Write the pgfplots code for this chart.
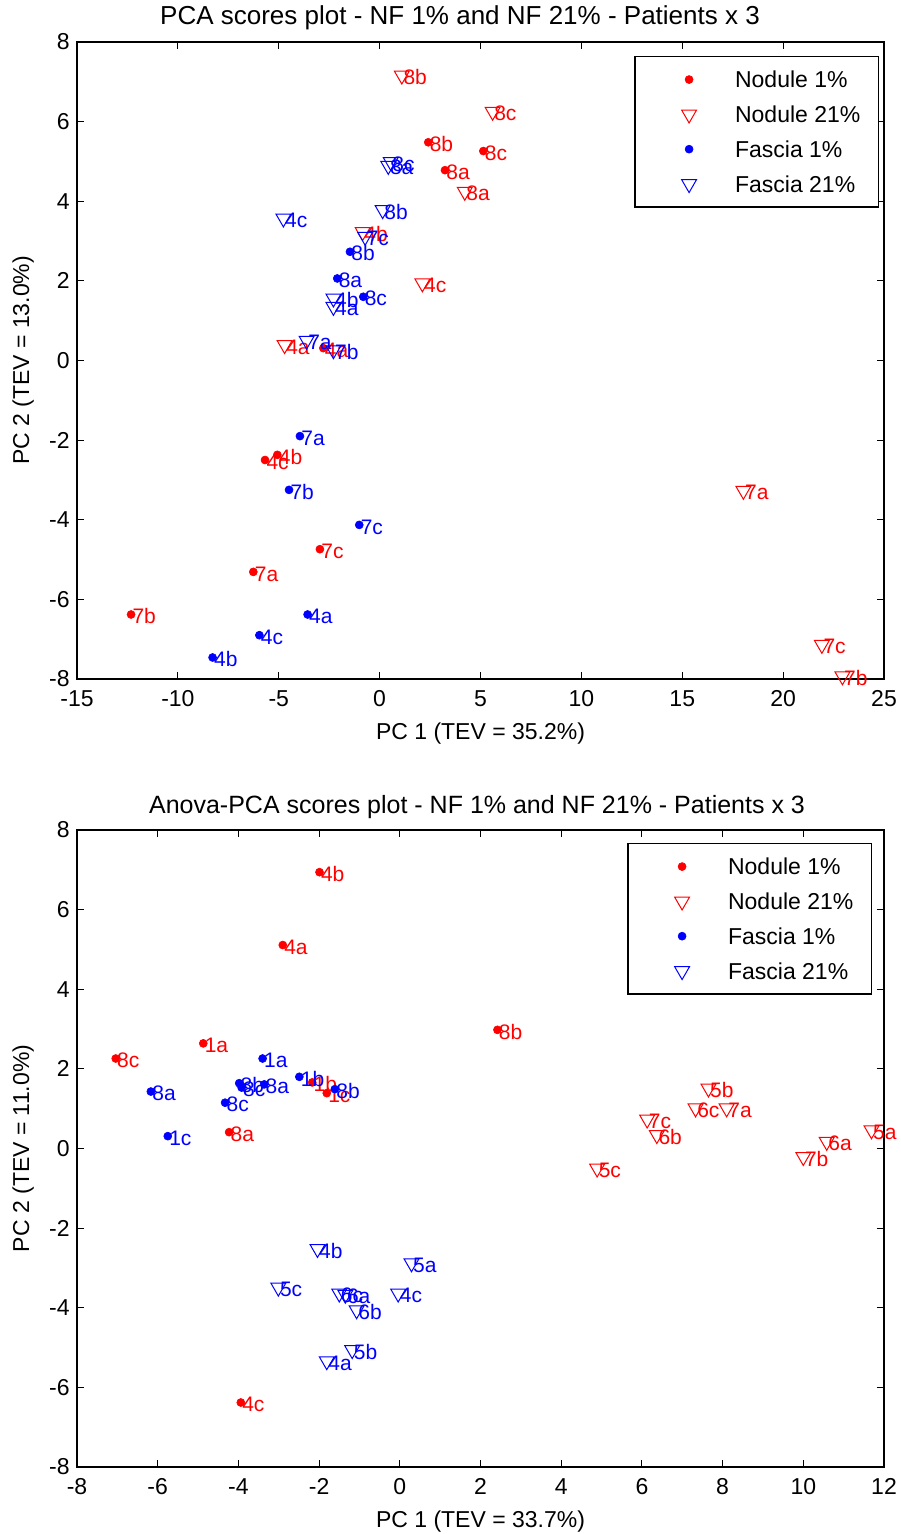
\documentclass[border=0pt]{standalone}
\usepackage{fontspec}
\setmainfont{Liberation Sans}
\usepackage{pgfplots}
\usepackage{pgfplotstable}
\pgfplotsset{compat=1.18}

% ---------- PCA scores (top) ----------
\pgfplotstableread{
x y lbl
2.41 5.48 8b
5.14 5.26 8c
3.24 4.78 8a
-2.79 0.31 4a
-5.07 -2.37 4b
-5.68 -2.50 4c
-2.96 -4.74 7c
-6.26 -5.31 7a
-12.32 -6.38 7b
}\pcaNodOne

\pgfplotstableread{
x y lbl
1.10 7.16 8b
5.60 6.25 8c
4.22 4.24 8a
-0.84 3.23 4b
2.12 1.94 4c
-4.71 0.39 4a
18.03 -3.27 7a
21.92 -7.14 7c
22.94 -7.93 7b
}\pcaNodTwo

\pgfplotstableread{
x y lbl
-1.47 2.73 8b
-2.10 2.06 8a
-0.81 1.60 8c
-3.95 -1.90 7a
-4.49 -3.25 7b
-1.01 -4.13 7c
-3.57 -6.38 4a
-5.96 -6.90 4c
-8.28 -7.46 4b
}\pcaFasOne

\pgfplotstableread{
x y lbl
0.55 4.99 8c
0.43 4.89 8a
0.15 3.78 8b
-4.77 3.57 4c
-0.72 3.11 7c
-2.29 1.56 4b
-2.29 1.35 4a
-3.62 0.50 7a
-2.29 0.26 7b
}\pcaFasTwo

% ---------- Anova-PCA scores (bottom) ----------
\pgfplotstableread{
x y lbl
-1.99 6.94 4b
-2.90 5.11 4a
2.42 2.98 8b
-4.87 2.64 1a
-7.04 2.26 8c
-2.17 1.66 1b
-1.81 1.39 1c
-4.23 0.41 8a
-3.94 -6.38 4c
}\apcaNodOne

\pgfplotstableread{
x y lbl
7.65 1.51 5b
7.33 1.01 6c
8.10 1.01 7a
6.13 0.73 7c
6.37 0.34 6b
4.89 -0.50 5c
10.00 -0.21 7b
10.58 0.17 6a
11.69 0.46 5a
}\apcaNodTwo

\pgfplotstableread{
x y lbl
-3.40 2.26 1a
-6.17 1.43 8a
-3.98 1.64 8b
-3.92 1.53 8c
-3.36 1.61 8a
-2.49 1.80 1b
-1.61 1.49 8b
-4.33 1.15 8c
-5.75 0.31 1c
}\apcaFasOne

\pgfplotstableread{
x y lbl
-2.04 -2.52 4b
0.29 -2.88 5a
-3.01 -3.49 5c
-1.50 -3.64 6c
-1.35 -3.67 6a
-1.07 -4.06 6b
-0.04 -3.64 4c
-1.18 -5.06 5b
-1.81 -5.34 4a
}\apcaFasTwo

\pgfplotsset{
  scoreaxis/.style={
    scale only axis, width=403.5pt, height=318.5pt,
    clip=false,
    axis line style={black, line width=0.6pt},
    tick align=inside, tick pos=both,
    major tick length=3.5pt,
    tick style={black, line width=0.5pt},
    /pgf/number format/assume math mode=true,
    ticklabel style={font=\fontsize{11.5}{13}\selectfont},
    xticklabel style={inner sep=0pt, anchor=north, yshift=-5.5pt},
    yticklabel style={inner sep=0pt, anchor=east, xshift=-3.5pt},
    label style={font=\fontsize{11.5}{13}\selectfont, inner sep=0pt},
    xlabel style={at={(axis description cs:0.5,-0.0675)}, anchor=north},
    ylabel style={at={(axis description cs:-0.0806,0.5)}, anchor=north},
    title style={font=\fontsize{12.5}{14}\selectfont, inner sep=0pt, anchor=base},
    legend cell align=left,
    legend style={at={(1,1)}, anchor=north east, draw=black, line width=0.6pt,
      inner xsep=9pt, inner ysep=2.8pt, row sep=0pt, column sep=0pt,
      font=\fontsize{11.5}{13}\selectfont,
      nodes={inner sep=0pt, text height=12.8pt, text depth=4.6pt}},
    legend image code/.code={%
      \path[draw=none, fill=none] (0pt,-4pt) rectangle (41pt,4pt);
      \draw[##1] plot coordinates {(18pt,0pt)};},
  },
  dotset/.style={only marks, mark=*, mark size=2pt, color=#1,
    mark options={fill=#1, draw=#1, line width=0.3pt},
    nodes near coords, point meta=explicit symbolic,
    nodes near coords style={anchor=base west, inner sep=0pt, xshift=0.6pt,
      yshift=-4.6pt, text=#1, font=\fontsize{10.5}{12}\selectfont}},
  triset/.style={only marks, mark=triangle, mark size=4.3pt, color=#1,
    mark options={rotate=180, draw=#1, fill=none, line width=0.5pt},
    nodes near coords, point meta=explicit symbolic,
    nodes near coords style={anchor=base west, inner sep=0pt, xshift=0.6pt,
      yshift=-4.6pt, text=#1, font=\fontsize{10.5}{12}\selectfont}},
}

\begin{document}
\begin{tikzpicture}
% PCA scores
\begin{axis}[scoreaxis, at={(0pt,394pt)},
  xmin=-15, xmax=25, ymin=-8, ymax=8,
  xtick={-15,-10,...,25}, ytick={-8,-6,...,8},
  title={PCA scores plot - NF 1\% and NF 21\% - Patients x 3},
  title style={at={(axis description cs:0.4746,1.0078)}, font=\fontsize{13}{15}\selectfont},
  xlabel={PC 1 (TEV = 35.2\%)},
  ylabel={PC 2 (TEV = 13.0\%)},
  legend style={xshift=-2.5pt, yshift=-7pt}]
\addplot[dotset=red] table[x=x, y=y, meta=lbl] {\pcaNodOne};
\addlegendentry{Nodule 1\%}
\addplot[triset=red] table[x=x, y=y, meta=lbl] {\pcaNodTwo};
\addlegendentry{Nodule 21\%}
\addplot[dotset=blue] table[x=x, y=y, meta=lbl] {\pcaFasOne};
\addlegendentry{Fascia 1\%}
\addplot[triset=blue] table[x=x, y=y, meta=lbl] {\pcaFasTwo};
\addlegendentry{Fascia 21\%}
\end{axis}

% Anova-PCA scores
\begin{axis}[scoreaxis, at={(0pt,0pt)},
  xmin=-8, xmax=12, ymin=-8, ymax=8,
  xtick={-8,-6,...,12}, ytick={-8,-6,...,8},
  title={Anova-PCA scores plot - NF 1\% and NF 21\% - Patients x 3},
  title style={at={(axis description cs:0.4957,1.0078)}},
  xlabel={PC 1 (TEV = 33.7\%)},
  ylabel={PC 2 (TEV = 11.0\%)},
  legend style={xshift=-6pt, yshift=-6.5pt}]
\addplot[dotset=red] table[x=x, y=y, meta=lbl] {\apcaNodOne};
\addlegendentry{Nodule 1\%}
\addplot[triset=red] table[x=x, y=y, meta=lbl] {\apcaNodTwo};
\addlegendentry{Nodule 21\%}
\addplot[dotset=blue] table[x=x, y=y, meta=lbl] {\apcaFasOne};
\addlegendentry{Fascia 1\%}
\addplot[triset=blue] table[x=x, y=y, meta=lbl] {\apcaFasTwo};
\addlegendentry{Fascia 21\%}
\end{axis}

\pgfresetboundingbox
\path[use as bounding box] (-38.5pt,-33.5pt) rectangle (411.5pt,733.5pt);
\end{tikzpicture}
\end{document}
